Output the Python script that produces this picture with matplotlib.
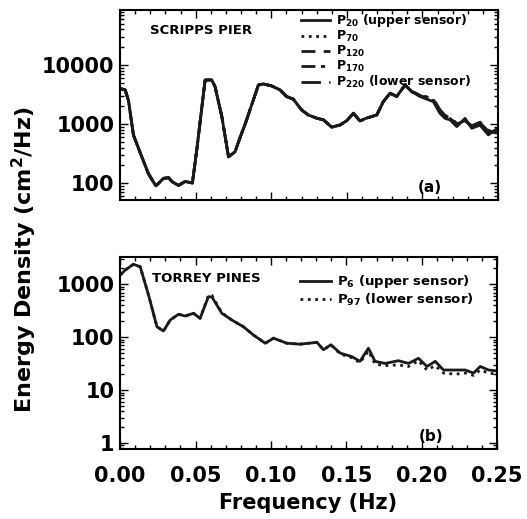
import matplotlib
matplotlib.use("Agg")
import matplotlib.pyplot as plt
from matplotlib.ticker import LogLocator, MultipleLocator, NullFormatter, FixedLocator

plt.rcParams['font.family'] = ['DejaVu Sans']
plt.rcParams['font.weight'] = 'bold'
plt.rcParams['mathtext.default'] = 'bf'

# ---------------- data: Scripps Pier ----------------
f_scripps = [0.000, 0.0033, 0.0055, 0.0088, 0.0143, 0.0187, 0.0236, 0.0287, 0.032, 0.0346,
             0.0386, 0.043, 0.0478, 0.0507, 0.0562, 0.0606, 0.0628, 0.0673, 0.0717, 0.076,
             0.0794, 0.0827, 0.0915, 0.0948, 0.1003, 0.1058, 0.1102, 0.1146, 0.12, 0.1245,
             0.13, 0.1345, 0.14, 0.1455, 0.15, 0.1543, 0.1587, 0.1625, 0.1698, 0.1741,
             0.1786, 0.183, 0.1885, 0.193, 0.1984, 0.2072, 0.2116, 0.215, 0.2183, 0.2227,
             0.2282, 0.2326, 0.2381, 0.2436, 0.248, 0.25]
scripps_head = [4000, 3790, 2520, 650, 280, 145, 90, 121, 124, 105,
                92, 107, 101, 368, 5560, 5590, 4300, 1330, 280, 340,
                600, 1000, 4600, 4780, 4420, 3790, 2920, 2640, 1740, 1430,
                1260, 1180, 887, 969, 1146, 1527, 1130, 1250, 1430, 2400,
                3330, 2930, 4600, 3540]
p20_tail = [2930, 2400, 1520, 1250, 1180, 909, 1250, 851, 960, 657, 795, 850]
p70_tail = [3000, 2500, 1600, 1300, 1220, 950, 1200, 880, 1000, 700, 760, 820]
p120_tail = [3050, 2550, 1650, 1350, 1250, 980, 1180, 900, 1030, 730, 740, 800]
p170_tail = [3100, 2600, 1700, 1380, 1280, 1000, 1150, 920, 1050, 760, 720, 780]
p220_tail = [3150, 2650, 1750, 1400, 1300, 1030, 1130, 940, 1080, 790, 700, 760]
scripps_series = [
    (r'P$_{20}$ (upper sensor)', scripps_head + p20_tail),
    (r'P$_{70}$', scripps_head + p70_tail),
    (r'P$_{120}$', scripps_head + p120_tail),
    (r'P$_{170}$', scripps_head + p170_tail),
    (r'P$_{220}$ (lower sensor)', scripps_head + p220_tail),
]

# ---------------- data: Torrey Pines ----------------
f_torrey = [0.0, 0.0033, 0.0088, 0.0133, 0.0188, 0.0244, 0.0287, 0.0332, 0.0387, 0.0431,
            0.0486, 0.053, 0.0585, 0.0608, 0.0674, 0.074, 0.0817, 0.0884, 0.0962, 0.1017,
            0.1105, 0.1194, 0.1305, 0.1348, 0.1397, 0.146, 0.1536, 0.159, 0.1646, 0.169,
            0.1757, 0.1845, 0.1912, 0.1978, 0.2034, 0.2089, 0.2144, 0.2221, 0.2288, 0.2343,
            0.2387, 0.2443, 0.25]
p6 = [1500, 1860, 2400, 2150, 630, 158, 131, 212, 272, 252,
      284, 228, 583, 580, 284, 212, 158, 110, 77, 96,
      77, 74, 80, 58, 72, 50, 43, 35, 62, 35,
      32, 36, 32, 40, 28, 35, 24, 24, 24, 21,
      28, 24, 23]
p97 = [1500, 1860, 2400, 2150, 630, 158, 131, 212, 272, 252,
       284, 228, 620, 620, 290, 212, 158, 110, 77, 96,
       77, 74, 80, 58, 72, 48, 41, 33, 55, 31,
       29, 30, 28, 36, 24, 29, 21, 20, 21, 19,
       24, 21, 20]
torrey_series = [
    (r'P$_{6}$ (upper sensor)', p6),
    (r'P$_{97}$ (lower sensor)', p97),
]

x_ticks = [0.00, 0.05, 0.10, 0.15, 0.20, 0.25]
x_ticklabels = ['0.00', '0.05', '0.10', '0.15', '0.20', '0.25']

styles_top = ['-', ':', (0, (5, 3)), (0, (5, 2, 1.5, 2)), (0, (7, 3, 1.5, 3))]
styles_bot = ['-', ':']

fig = plt.figure(figsize=(5.27, 5.19), dpi=100)
ax1 = fig.add_axes([0.228, 0.6146, 0.717, 0.366])
ax2 = fig.add_axes([0.228, 0.1349, 0.7155, 0.370])

for (lab, vals), ls in zip(scripps_series, styles_top):
    ax1.plot(f_scripps, vals, color='#1a1a1a', lw=2.0, ls=ls, label=lab)
for (lab, vals), ls in zip(torrey_series, styles_bot):
    ax2.plot(f_torrey, vals, color='#1a1a1a', lw=2.0, ls=ls, label=lab)

ax1.set_yscale('log')
ax2.set_yscale('log')
ax1.set_ylim(52, 85000)
ax2.set_ylim(0.77, 3300)
for ax in (ax1, ax2):
    ax.set_xlim(0, 0.25)
    ax.xaxis.set_major_locator(FixedLocator(x_ticks))
    ax.xaxis.set_minor_locator(MultipleLocator(0.01))
    ax.yaxis.set_minor_locator(LogLocator(base=10, subs=range(2, 10), numticks=20))
    ax.yaxis.set_minor_formatter(NullFormatter())
    ax.tick_params(which='both', direction='in', top=True, right=True, width=1.0)
    ax.tick_params(which='major', length=6)
    ax.tick_params(which='minor', length=3)
    ax.tick_params(axis='y', labelsize=15, pad=4)
    ax.tick_params(axis='x', labelsize=15, pad=12)
    for s in ax.spines.values():
        s.set_linewidth(1.5)

ax1.yaxis.set_major_locator(FixedLocator([100, 1000, 10000]))
ax1.set_yticklabels(['100', '1000', '10000'])
ax2.yaxis.set_major_locator(FixedLocator([1, 10, 100, 1000]))
ax2.set_yticklabels(['1', '10', '100', '1000'])
ax1.set_xticklabels([])
ax2.set_xticklabels(x_ticklabels)
for ax in (ax1, ax2):
    for t in ax.get_xticklabels() + ax.get_yticklabels():
        t.set_fontweight('bold')

ax1.text(0.079, 0.895, 'SCRIPPS PIER', transform=ax1.transAxes, fontsize=9.5,
         fontweight='bold', va='center', ha='left')
ax1.text(0.82, 0.065, '(a)', transform=ax1.transAxes, fontsize=11,
         fontweight='bold', va='center', ha='center')
ax2.text(0.085, 0.89, 'TORREY PINES', transform=ax2.transAxes, fontsize=9.5,
         fontweight='bold', va='center', ha='left')
ax2.text(0.825, 0.063, '(b)', transform=ax2.transAxes, fontsize=11,
         fontweight='bold', va='center', ha='center')

leg_kw = dict(frameon=False, loc='upper left', handlelength=2.3, handletextpad=0.5,
              borderpad=0, borderaxespad=0)
ax1.legend(bbox_to_anchor=(0.478, 0.99), labelspacing=0.0,
           prop={'weight': 'bold', 'size': 9}, **leg_kw)
ax2.legend(bbox_to_anchor=(0.478, 0.915), labelspacing=0.1,
           prop={'weight': 'bold', 'size': 9.5}, **leg_kw)

fig.text(0.047, 0.499, 'Energy Density (cm$^2$/Hz)', rotation=90, fontsize=16,
         fontweight='bold', ha='center', va='center')
fig.text(0.584, 0.031, 'Frequency (Hz)', fontsize=15, fontweight='bold',
         ha='center', va='center')

fig.savefig('out.png', dpi=100)
